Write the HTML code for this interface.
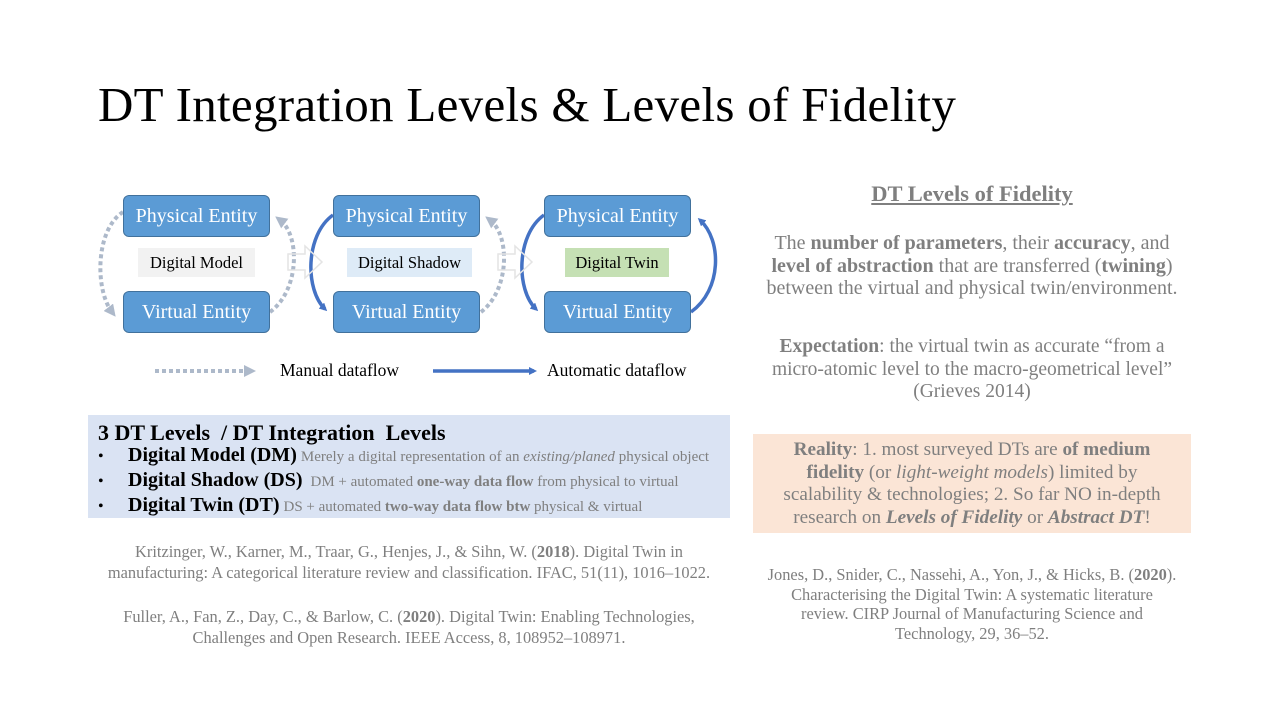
<!DOCTYPE html>
<html><head><meta charset="utf-8"><style>
*{margin:0;padding:0;box-sizing:border-box}
body{width:1280px;height:720px;background:#fff;position:relative;overflow:hidden;font-family:"Liberation Serif",serif}
.a{position:absolute}
.ent{position:absolute;width:147px;height:42px;background:#5b9bd5;border:1px solid #41719c;border-radius:6px;color:#fff;font-size:20px;text-align:center;line-height:40px;white-space:nowrap}
.lab{position:absolute;height:29px;font-size:16.5px;text-align:center;line-height:29px;color:#000;white-space:nowrap}
.g{color:#7f7f7f}
.c{text-align:center;white-space:nowrap}
</style></head><body>
<div class="a" style="left:98px;top:76px;font-size:49px;color:#000;white-space:nowrap;letter-spacing:0.3px">DT Integration Levels &amp; Levels of Fidelity</div>

<svg class="a" style="left:0;top:0" width="1280" height="720">
<defs>
<marker id="mb" markerWidth="8" markerHeight="8" refX="5" refY="4" orient="auto" markerUnits="userSpaceOnUse"><path d="M0,0 L8,4 L0,8z" fill="#4472c4"/></marker>
<marker id="mg" markerWidth="12" markerHeight="12" refX="6" refY="6" orient="auto" markerUnits="userSpaceOnUse"><path d="M0,0 L12,6 L0,12z" fill="#adb9ca"/></marker>
</defs>
<g fill="none" stroke="#adb9ca" stroke-width="4" stroke-dasharray="4,3">
<path d="M123,212 C95,230 95,290 112,312" marker-end="url(#mg)"/>
<path d="M270,312 C300,290 300,235 280,220" marker-end="url(#mg)"/>
<path d="M481,312 C510,290 510,235 490,220" marker-end="url(#mg)"/>
<path d="M155,371 L250,371" marker-end="url(#mg)"/>
</g>
<g fill="none" stroke="#4472c4" stroke-width="3.5">
<path d="M333,215 C305,235 305,290 325,309" marker-end="url(#mb)"/>
<path d="M544,215 C516,235 516,290 536,309" marker-end="url(#mb)"/>
<path d="M691,312 C722,290 722,240 700,220" marker-end="url(#mb)"/>
<path d="M433,371 L534,371" marker-end="url(#mb)"/>
</g>
<g fill="none" stroke="#e4e4e4" stroke-width="1.5">
<path d="M288,254 L305,254 L305,246 L322,262 L305,278 L305,270 L288,270z"/>
<path d="M498,254 L515,254 L515,246 L532,262 L515,278 L515,270 L498,270z"/>
</g>
</svg>

<div class="ent" style="left:123px;top:195px">Physical Entity</div>
<div class="ent" style="left:123px;top:291px">Virtual Entity</div>
<div class="ent" style="left:333px;top:195px">Physical Entity</div>
<div class="ent" style="left:333px;top:291px">Virtual Entity</div>
<div class="ent" style="left:544px;top:195px">Physical Entity</div>
<div class="ent" style="left:544px;top:291px">Virtual Entity</div>
<div class="lab" style="left:138px;top:248px;width:117px;background:#f2f2f2">Digital Model</div>
<div class="lab" style="left:347px;top:248px;width:125px;background:#deebf7">Digital Shadow</div>
<div class="lab" style="left:565px;top:248px;width:104px;background:#c5e0b4">Digital Twin</div>
<div class="a" style="left:280px;top:360px;font-size:17.5px;white-space:nowrap">Manual dataflow</div>
<div class="a" style="left:547px;top:360px;font-size:17.5px;white-space:nowrap">Automatic dataflow</div>

<div class="a" style="left:88px;top:415px;width:642px;height:103px;background:#dae3f3;padding:6px 0 0 10px;white-space:nowrap">
<div style="font-size:22px;font-weight:bold;line-height:23px">3 DT Levels &nbsp;/ DT Integration &nbsp;Levels</div>
<div style="line-height:23px"><span style="display:inline-block;width:30px;font-size:16px">•</span><b style="font-size:20px">Digital Model (DM)</b> <span class="g" style="font-size:15px">Merely a digital representation of an <i>existing/planed</i> physical object</span></div>
<div style="line-height:23px"><span style="display:inline-block;width:30px;font-size:16px">•</span><b style="font-size:20px">Digital Shadow (DS)</b> &nbsp;<span class="g" style="font-size:15px">DM + automated <b>one-way data flow</b> from physical to virtual</span></div>
<div style="line-height:23px"><span style="display:inline-block;width:30px;font-size:16px">•</span><b style="font-size:20px">Digital Twin (DT)</b> <span class="g" style="font-size:15px">DS + automated <b>two-way data flow btw</b> physical &amp; virtual</span></div>
</div>

<div class="a g c" style="left:88px;top:541px;width:642px;font-size:16.4px;line-height:21px">Kritzinger, W., Karner, M., Traar, G., Henjes, J., &amp; Sihn, W. (<b>2018</b>). Digital Twin in<br>manufacturing: A categorical literature review and classification. IFAC, 51(11), 1016–1022.</div>
<div class="a g c" style="left:88px;top:606px;width:642px;font-size:16.4px;line-height:21px">Fuller, A., Fan, Z., Day, C., &amp; Barlow, C. (<b>2020</b>). Digital Twin: Enabling Technologies,<br>Challenges and Open Research. IEEE Access, 8, 108952–108971.</div>

<div class="a g c" style="left:753px;top:181px;width:438px;font-size:22.5px;font-weight:bold;text-decoration:underline">DT Levels of Fidelity</div>
<div class="a g c" style="left:753px;top:232px;width:438px;font-size:20px;line-height:22.5px">The <b>number of parameters</b>, their <b>accuracy</b>, and<br><b>level of abstraction</b> that are transferred (<b>twining</b>)<br>between the virtual and physical twin/environment.</div>
<div class="a g c" style="left:753px;top:336px;width:438px;font-size:19.5px;line-height:22.5px"><b>Expectation</b>: the virtual twin as accurate “from a<br>micro-atomic level to the macro-geometrical level”<br>(Grieves 2014)</div>
<div class="a g c" style="left:753px;top:434px;width:438px;height:99px;background:#fbe5d6;font-size:19.2px;line-height:22.5px;padding-top:5px"><b>Reality</b>: 1. most surveyed DTs are <b>of medium<br>fidelity</b> (or <i>light-weight models</i>) limited by<br>scalability &amp; technologies; 2. So far NO in-depth<br>research on <b><i>Levels of Fidelity</i></b> or <b><i>Abstract DT</i></b>!</div>
<div class="a g c" style="left:753px;top:565px;width:438px;font-size:16.4px;line-height:19.5px">Jones, D., Snider, C., Nassehi, A., Yon, J., &amp; Hicks, B. (<b>2020</b>).<br>Characterising the Digital Twin: A systematic literature<br>review. CIRP Journal of Manufacturing Science and<br>Technology, 29, 36–52.</div>
</body></html>
